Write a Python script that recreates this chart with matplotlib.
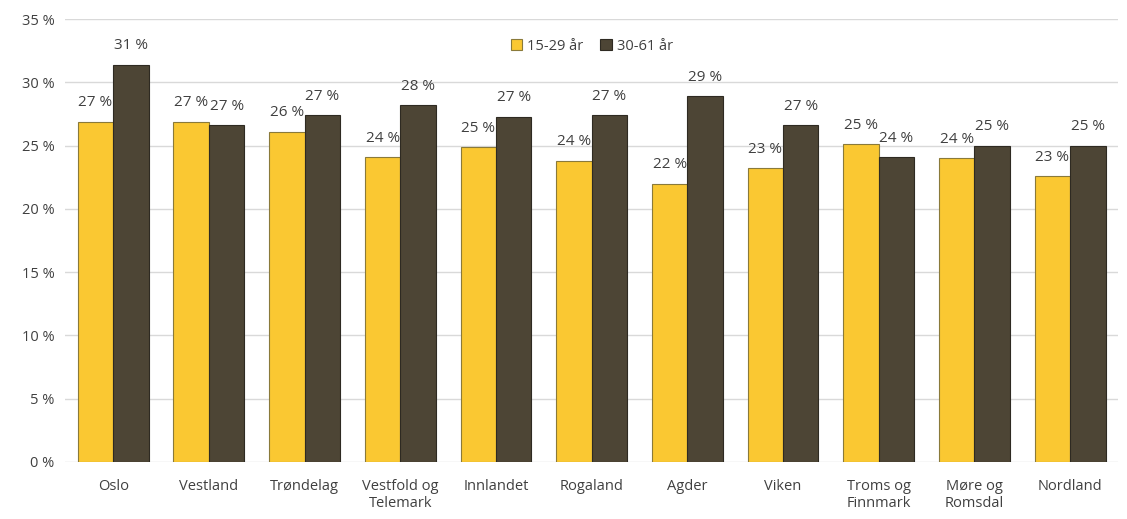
import numpy as np
import matplotlib.pyplot as plt

plt.rcParams['font.family'] = ['Open Sans', 'DejaVu Sans']

regions = ["Oslo", "Vestland", "Trøndelag", "Vestfold og\nTelemark", "Innlandet",
           "Rogaland", "Agder", "Viken", "Troms og\nFinnmark", "Møre og\nRomsdal", "Nordland"]
young = [26.9, 26.9, 26.1, 24.1, 24.9, 23.8, 22.0, 23.2, 25.1, 24.0, 22.6]
older = [31.4, 26.6, 27.4, 28.2, 27.3, 27.4, 28.9, 26.6, 24.1, 25.0, 25.0]
series_names = ["15-29 år", "30-61 år"]

fig = plt.figure(figsize=(11.27, 5.19), dpi=100)
ax = fig.add_axes([0.058, 0.11, 0.934, 0.853])

x = np.arange(len(regions))
w = 0.37
b1 = ax.bar(x - w/2, young, w, color="#FAC832", edgecolor="#8a7a3a", linewidth=0.8,
            label=series_names[0], zorder=3)
b2 = ax.bar(x + w/2, older, w, color="#4D4535", edgecolor="#2e2a22", linewidth=0.8,
            label=series_names[1], zorder=3)

for bars in (b1, b2):
    for r in bars:
        v = r.get_height()
        ax.text(r.get_x() + r.get_width()/2, v + 0.9, f"{round(v):.0f} %",
                ha="center", va="bottom", fontsize=11, color="#404040")

ax.set_ylim(0, 35)
ax.set_xlim(-0.5, len(regions) - 0.5)
ax.set_yticks(np.arange(0, 36, 5))
ax.set_yticklabels([f"{t} %" for t in range(0, 36, 5)])
ax.set_xticks(x)
ax.set_xticklabels(regions)
ax.tick_params(axis="both", length=0, labelsize=10.5, colors="#404040")
ax.tick_params(axis="x", pad=12)
ax.tick_params(axis="y", pad=8)
ax.grid(axis="y", color="#d9d9d9", linewidth=1, zorder=0)
for s in ax.spines.values():
    s.set_visible(False)

ax.legend(loc="upper center", bbox_to_anchor=(0.5, 0.985), ncol=2, frameon=False,
          fontsize=10.5, handlelength=0.8, handleheight=0.8, columnspacing=1.2,
          handletextpad=0.3, labelcolor="#404040")

fig.savefig("out.png", dpi=100)
